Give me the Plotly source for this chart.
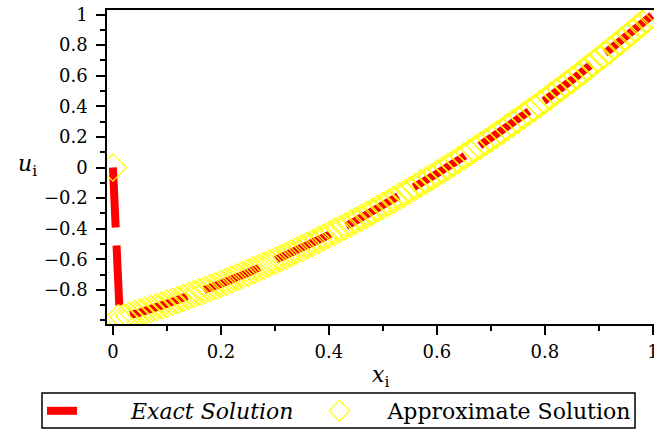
import plotly.graph_objects as go

# Approximate solution nodes
x_approx = [i / 100 for i in range(0, 101)]
u_approx = [
    0.0, -0.985, -0.980, -0.969, -0.958, -0.948, -0.936, -0.925, -0.914, -0.902,
    -0.890, -0.878, -0.866, -0.853, -0.840, -0.828, -0.814, -0.801, -0.788, -0.774,
    -0.760, -0.746, -0.732, -0.717, -0.702, -0.688, -0.672, -0.657, -0.642, -0.626,
    -0.610, -0.594, -0.578, -0.561, -0.544, -0.528, -0.510, -0.493, -0.476, -0.458,
    -0.440, -0.422, -0.404, -0.385, -0.366, -0.348, -0.328, -0.309, -0.290, -0.270,
    -0.250, -0.230, -0.210, -0.189, -0.168, -0.148, -0.126, -0.105, -0.084, -0.062,
    -0.040, -0.018, 0.004, 0.027, 0.050, 0.072, 0.096, 0.119, 0.142, 0.166,
    0.190, 0.214, 0.238, 0.263, 0.288, 0.312, 0.338, 0.363, 0.388, 0.414,
    0.440, 0.466, 0.492, 0.519, 0.546, 0.572, 0.600, 0.627, 0.654, 0.682,
    0.710, 0.738, 0.766, 0.795, 0.824, 0.852, 0.882, 0.911, 0.940, 0.970,
    1.000,
]

# Exact solution (boundary layer near x = 0, then smooth rise)
x_exact = [0.0, 0.003, 0.006, 0.009, 0.012, 0.015, 0.02, 0.03, 0.05, 0.1, 0.15, 0.2,
           0.25, 0.3, 0.35, 0.4, 0.45, 0.5, 0.55, 0.6, 0.65, 0.7, 0.75, 0.8,
           0.85, 0.9, 0.95, 1.0]
u_exact = [0.0, -0.30, -0.58, -0.80, -0.92, -0.955, -0.965, -0.965, -0.948, -0.890,
           -0.828, -0.760, -0.688, -0.610, -0.528, -0.440, -0.348, -0.250, -0.148,
           -0.040, 0.072, 0.190, 0.312, 0.440, 0.572, 0.710, 0.852, 1.000]

x_ticks = [0, 0.2, 0.4, 0.6, 0.8, 1]
x_labels = ["0", "0.2", "0.4", "0.6", "0.8", "1"]
y_ticks = [-0.8, -0.6, -0.4, -0.2, 0, 0.2, 0.4, 0.6, 0.8, 1]
y_labels = ["\u22120.8", "\u22120.6", "\u22120.4", "\u22120.2", "0",
            "0.2", "0.4", "0.6", "0.8", "1"]

FONT = "DejaVu Serif"
NB = "\u00a0"

X_RANGE = [-0.011, 1.002]
Y_RANGE = [-1.023, 1.03]

# plot area in pixels (for converting legend frame position to paper coords)
PL, PB, PW, PH = 107, 324, 547, 314


def px_x(p):
    return (p - PL) / PW


def px_y(p):
    return (PB - p) / PH


fig = go.Figure()
fig.add_trace(go.Scatter(
    x=x_exact, y=u_exact, mode="lines", name=NB * 7 + "<i>Exact Solution</i>" + NB * 3,
    line=dict(color="#ff0000", width=8, dash="60px,18px"),
))
fig.add_trace(go.Scatter(
    x=x_approx, y=u_approx, mode="markers", name=NB * 4 + "Approximate Solution",
    marker=dict(symbol="diamond-open", size=21, color="#ffff00",
                line=dict(color="#ffff00", width=1.2)),
))

axis_common = dict(
    showgrid=False, zeroline=False, showline=True, linecolor="black", linewidth=1.5,
    mirror=True, ticks="outside", ticklen=9, tickwidth=1.5, tickcolor="black",
    tickfont=dict(family=FONT, size=18, color="black"), automargin=False,
    ticklabeloverflow="allow",
    minor=dict(ticks="outside", ticklen=5, tickwidth=1.5, tickcolor="black",
               dtick=0.1, tick0=0),
)

fig.update_xaxes(range=X_RANGE, tickvals=x_ticks, ticktext=x_labels,
                 ticklabelstandoff=2, **axis_common)
fig.update_yaxes(range=Y_RANGE, tickvals=y_ticks, ticktext=y_labels,
                 ticklabelstandoff=5, **axis_common)

y0_frac = (0 - Y_RANGE[0]) / (Y_RANGE[1] - Y_RANGE[0])

fig.update_layout(
    width=654, height=432,
    margin=dict(l=PL, r=0, t=10, b=432 - PB, autoexpand=False),
    paper_bgcolor="white", plot_bgcolor="white",
    showlegend=True,
    legend=dict(
        orientation="h", xref="paper", yref="paper",
        x=px_x(42), xanchor="left", y=px_y(390), yanchor="top",
        borderwidth=0, bgcolor="rgba(0,0,0,0)",
        font=dict(family=FONT, size=22, color="black"),
        itemwidth=30, tracegroupgap=0,
    ),
    shapes=[
        dict(type="rect", xref="paper", yref="paper",
             x0=px_x(42), x1=px_x(635), y0=px_y(428), y1=px_y(393),
             line=dict(color="black", width=1.5), fillcolor="rgba(0,0,0,0)"),
    ],
    annotations=[
        dict(text="<i>u</i><sub>i</sub>", xref="paper", yref="paper",
             x=px_x(27), y=y0_frac, yshift=2,
             xanchor="center", yanchor="middle", showarrow=False,
             font=dict(family=FONT, size=22, color="black")),
        dict(text="<i>x</i><sub>i</sub>", xref="paper", yref="paper",
             x=px_x(380), y=0, yshift=-36, xanchor="center", yanchor="top",
             showarrow=False, font=dict(family=FONT, size=22, color="black")),
    ],
)

fig.write_html("out.html", post_script="document.body.style.margin='0';",
               config={"displayModeBar": False})
